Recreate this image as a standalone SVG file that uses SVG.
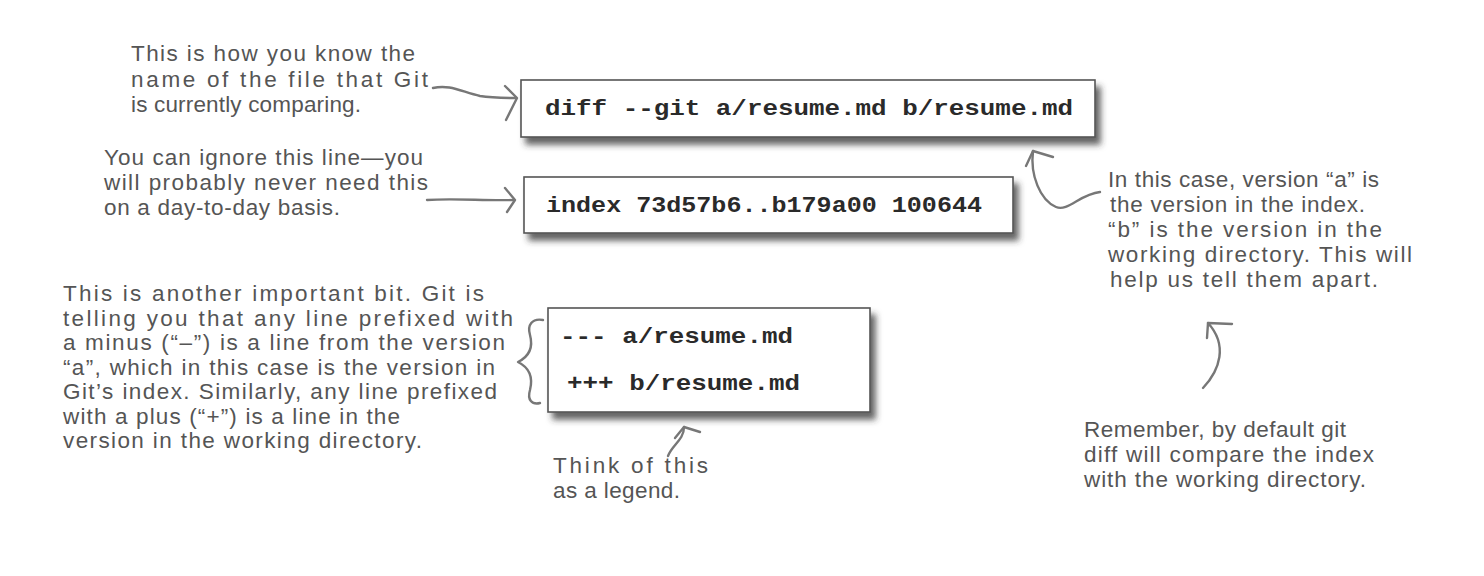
<svg xmlns="http://www.w3.org/2000/svg" width="1484" height="576" viewBox="0 0 1484 576">
<defs>
<filter id="sh" x="-5%" y="-20%" width="115%" height="150%">
<feDropShadow dx="5" dy="7" stdDeviation="3" flood-color="#333" flood-opacity="0.75"/>
</filter>
</defs>
<style>
.note{font-family:"Liberation Sans",Arial,sans-serif;font-size:22.5px;fill:#555}
.code{font-family:"Liberation Mono","Courier New",monospace;font-weight:bold;font-size:22px;fill:#2a2a2a}
.box{fill:#fff;stroke:#555;stroke-width:1.6}
.ln{fill:none;stroke:#777;stroke-width:2.4;stroke-linecap:round;stroke-linejoin:round}
</style>
<rect width="1484" height="576" fill="#fff"/>
<g id="box-diff">
<rect class="box" x="521" y="80" width="574" height="57" filter="url(#sh)"/>
<text class="code" x="545" y="115" textLength="528" lengthAdjust="spacingAndGlyphs">diff --git a/resume.md b/resume.md</text>
</g>
<g id="box-index">
<rect class="box" x="524" y="177" width="489" height="56" filter="url(#sh)"/>
<text class="code" x="546" y="212" textLength="436" lengthAdjust="spacingAndGlyphs">index 73d57b6..b179a00 100644</text>
</g>
<g id="box-legend">
<rect class="box" x="548" y="308" width="322" height="104" filter="url(#sh)"/>
<text class="code" x="560" y="343" textLength="233" lengthAdjust="spacingAndGlyphs">--- a/resume.md</text>
<text class="code" x="567" y="390" textLength="233" lengthAdjust="spacingAndGlyphs">+++ b/resume.md</text>
</g>
<g id="note-filename">
<text class="note" x="131" y="61" textLength="284" lengthAdjust="spacing">This is how you know the</text>
<text class="note" x="131" y="87" textLength="297" lengthAdjust="spacing">name of the file that Git</text>
<text class="note" x="131" y="112" textLength="230" lengthAdjust="spacing">is currently comparing.</text>
</g>
<g id="note-index">
<text class="note" x="104" y="165" textLength="319" lengthAdjust="spacing">You can ignore this line—you</text>
<text class="note" x="104" y="190" textLength="324" lengthAdjust="spacing">will probably never need this</text>
<text class="note" x="104" y="215" textLength="236" lengthAdjust="spacing">on a day-to-day basis.</text>
</g>
<g id="note-prefix">
<text class="note" x="63" y="301" textLength="421" lengthAdjust="spacing">This is another important bit. Git is</text>
<text class="note" x="63" y="325.5" textLength="450" lengthAdjust="spacing">telling you that any line prefixed with</text>
<text class="note" x="63" y="350" textLength="442" lengthAdjust="spacing">a minus (“–”) is a line from the version</text>
<text class="note" x="63" y="374.5" textLength="432" lengthAdjust="spacing">“a”, which in this case is the version in</text>
<text class="note" x="63" y="399" textLength="434" lengthAdjust="spacing">Git’s index. Similarly, any line prefixed</text>
<text class="note" x="63" y="423.5" textLength="337" lengthAdjust="spacing">with a plus (“+”) is a line in the</text>
<text class="note" x="63" y="448" textLength="359" lengthAdjust="spacing">version in the working directory.</text>
</g>
<g id="note-versions">
<text class="note" x="1108" y="187" textLength="271" lengthAdjust="spacing">In this case, version “a” is</text>
<text class="note" x="1110" y="212" textLength="255" lengthAdjust="spacing">the version in the index.</text>
<text class="note" x="1108" y="237" textLength="274" lengthAdjust="spacing">“b” is the version in the</text>
<text class="note" x="1108" y="262" textLength="304" lengthAdjust="spacing">working directory. This will</text>
<text class="note" x="1110" y="287" textLength="268" lengthAdjust="spacing">help us tell them apart.</text>
</g>
<g id="note-default">
<text class="note" x="1084" y="437" textLength="262" lengthAdjust="spacing">Remember, by default git</text>
<text class="note" x="1084" y="462" textLength="290" lengthAdjust="spacing">diff will compare the index</text>
<text class="note" x="1084" y="487" textLength="282" lengthAdjust="spacing">with the working directory.</text>
</g>
<g id="note-legend">
<text class="note" x="553" y="473" textLength="155" lengthAdjust="spacing">Think of this</text>
<text class="note" x="553" y="498" textLength="127" lengthAdjust="spacing">as a legend.</text>
</g>
<g id="connectors">
<path class="ln" d="M433 88 C450 84 462 92 480 96 C492 98 505 98 516 98"/>
<path class="ln" d="M505 86 L517 98 L506 120"/>
<path class="ln" d="M427 200 C455 198 485 201 514 200"/>
<path class="ln" d="M505 188 L515 200 L507 212"/>
<path class="ln" d="M1100 192 C1080 194 1068 212 1056 207 C1040 200 1030 175 1033 151"/>
<path class="ln" d="M1026 166 L1033 151 L1053 157"/>
<path class="ln" d="M1203 388 C1220 370 1228 345 1208 323"/>
<path class="ln" d="M1207 338 L1208 323 L1232 324"/>
<path class="ln" d="M668 456 C672 445 684 440 684 427"/>
<path class="ln" d="M675 438 L684 427 L700 432"/>
<path class="ln" d="M543 320 C532 318 527 325 530 335 C533 346 530 356 518 362 C530 368 533 378 530 390 C527 400 532 405 540 403"/>
</g>
</svg>
